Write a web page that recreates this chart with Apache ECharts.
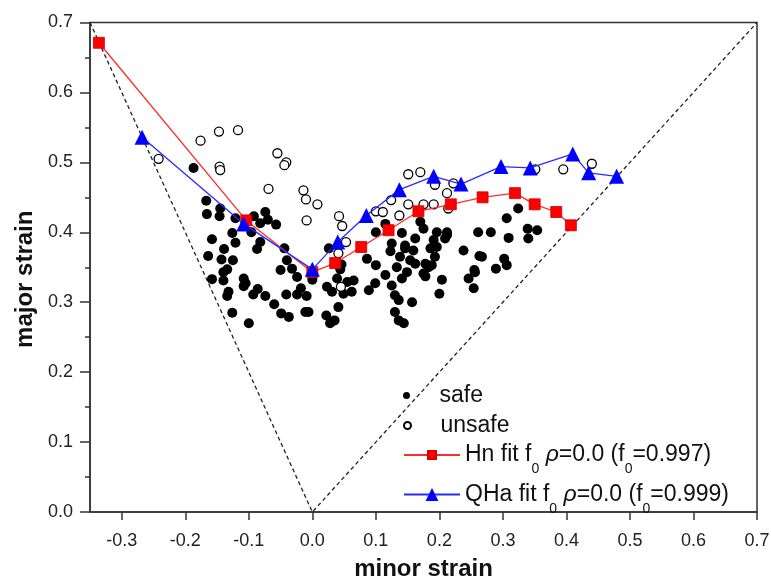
<!DOCTYPE html>
<html>
<head>
<meta charset="utf-8">
<script src="https://cdn.jsdelivr.net/npm/echarts@6/dist/echarts.min.js"></script>
<style>
html,body{margin:0;padding:0;background:#fff;}
#chart{width:771px;height:581px;}
</style>
</head>
<body>
<div id="chart"></div>
<script>
// ---- data (minor strain, major strain) ----
const safePoints = [
 [-0.187,0.492],[-0.167,0.445],[-0.166,0.426],[-0.145,0.434],[-0.146,0.423],[-0.121,0.420],[-0.092,0.423],
 [-0.074,0.429],[-0.070,0.418],[-0.057,0.411],[-0.082,0.413],[-0.126,0.399],[-0.096,0.400],
 [-0.158,0.390],[-0.121,0.385],[-0.139,0.376],[-0.164,0.366],[-0.143,0.361],[-0.125,0.360],[-0.134,0.347],
 [-0.140,0.343],[-0.158,0.333],[-0.140,0.331],[-0.108,0.334],[-0.105,0.327],[-0.108,0.323],[-0.087,0.376],
 [-0.082,0.386],[-0.086,0.319],[-0.093,0.311],[-0.074,0.309],[-0.132,0.315],[-0.134,0.309],[-0.126,0.285],
 [-0.100,0.270],[-0.060,0.297],[-0.049,0.284],[-0.037,0.279],[-0.041,0.311],[-0.024,0.311],[-0.018,0.320],
 [-0.009,0.309],[-0.011,0.286],[-0.050,0.346],[-0.040,0.360],[-0.032,0.348],[-0.024,0.336],[-0.044,0.377],
 [0.026,0.377],[0.000,0.332],[-0.006,0.286],[0.023,0.322],[0.031,0.315],[0.022,0.281],[0.028,0.270],
 [0.035,0.274],[0.041,0.293],[0.039,0.334],[0.044,0.347],[0.049,0.312],[0.055,0.329],[0.062,0.315],
 [0.065,0.331],[0.046,0.354],[0.086,0.362],[0.100,0.353],[0.115,0.339],[0.099,0.327],[0.089,0.317],
 [0.123,0.373],[0.125,0.324],[0.130,0.310],[0.133,0.350],[0.138,0.365],[0.146,0.377],[0.149,0.343],
 [0.141,0.334],[0.136,0.303],[0.130,0.286],[0.136,0.274],[0.144,0.270],[0.157,0.300],[0.162,0.355],
 [0.178,0.355],[0.175,0.341],[0.115,0.412],[0.100,0.400],[0.141,0.399],[0.170,0.415],[0.175,0.405],
 [0.162,0.391],[0.146,0.381],[0.125,0.384],[0.159,0.374],[0.154,0.360],
 [0.196,0.400],[0.212,0.396],[0.209,0.391],[0.191,0.389],[0.186,0.377],[0.196,0.379],[0.183,0.350],
 [0.178,0.337],[0.204,0.332],[0.200,0.312],[0.238,0.374],[0.261,0.400],[0.281,0.400],[0.267,0.365],
 [0.255,0.346],[0.246,0.334],[0.254,0.320],[0.302,0.362],[0.306,0.353],[0.289,0.348],[0.309,0.392],
 [0.306,0.420],[0.324,0.434],[0.339,0.405],[0.354,0.403],[0.340,0.391],[0.193,0.365],[0.188,0.353],
 [0.263,0.366],[0.256,0.343],[0.212,0.400]
];
const unsafePoints = [
 [-0.242,0.505],[-0.176,0.531],[-0.147,0.544],[-0.117,0.546],[-0.146,0.494],[-0.145,0.489],[-0.055,0.513],
 [-0.041,0.500],[-0.044,0.496],[-0.069,0.462],[-0.014,0.460],[-0.010,0.447],[0.008,0.440],[-0.009,0.417],
 [0.042,0.423],[0.047,0.409],[0.053,0.386],[0.041,0.370],[0.045,0.322],[0.100,0.430],[0.111,0.429],
 [0.124,0.446],[0.137,0.424],[0.151,0.440],[0.151,0.483],[0.170,0.486],[0.175,0.440],[0.191,0.440],
 [0.193,0.468],[0.222,0.470],[0.212,0.456],[0.214,0.434],[0.351,0.490],[0.395,0.490],[0.440,0.498]
];
const hnFit = [
 [-0.336,0.671],[-0.104,0.417],[0.000,0.343],[0.036,0.356],[0.077,0.379],[0.120,0.403],[0.167,0.430],
 [0.218,0.440],[0.268,0.450],[0.319,0.456],[0.350,0.440],[0.384,0.429],[0.407,0.410]
];
const qhaFit = [
 [-0.268,0.536],[-0.108,0.412],[0.000,0.347],[0.040,0.386],[0.085,0.424],[0.137,0.461],[0.191,0.480],
 [0.234,0.469],[0.297,0.494],[0.343,0.492],[0.410,0.512],[0.435,0.485],[0.479,0.480]
];
// reference lines: uniaxial (major = -2*minor) and equibiaxial (major = minor)
const boundaryLine = [[-0.35,0.70],[0.00,0.00],[0.70,0.70]];

const xRange = [-0.35, 0.70];
const yRange = [0, 0.70];
const seriesNames = ['safe','unsafe','Hn','QHa'];

const FONT = "'Liberation Sans', Arial, sans-serif";
const legendRich = {
  t: {fontSize: 23, lineHeight: 26, fontFamily: FONT, color: '#111'},
  r: {fontSize: 23, lineHeight: 26, fontFamily: FONT, fontStyle: 'italic', color: '#111'},
  s: {fontSize: 14, lineHeight: 14, fontFamily: FONT, color: '#111', padding: [29,0,0,0]}
};
function legendFmt(name){
  if (name === 'Hn') return '{t|Hn fit f}{s|0}{t| }{r|ρ}{t|=0.0 (f}{s|0}{t|=0.997)}';
  if (name === 'QHa') return '{t|QHa fit f}{s|0}{t| }{r|ρ}{t|=0.0 (f}{s|0}{t|=0.999)}';
  return '{t|' + name + '}';
}
function mkLegend(name, top, ih){
  return {
    data: [name], left: 403, top: top, orient: 'vertical', padding: 0,
    itemWidth: 56, itemHeight: ih, itemGap: 0, selectedMode: false,
    formatter: legendFmt, textStyle: {rich: legendRich}
  };
}
function fmt(v){
  const r = Math.round(v*10);
  if (Math.abs(v*10 - r) > 1e-6) return '';
  return (r/10).toFixed(1);
}

const chart = echarts.init(document.getElementById('chart'), null, {renderer: 'canvas'});
chart.setOption({
  animation: false,
  backgroundColor: '#fff',
  grid: {left: 90, right: 14, top: 22.5, bottom: 69, show: true, borderColor: '#333', borderWidth: 1.5,
         containLabel: false, outerBoundsMode: 'none'},
  legend: [
    mkLegend('safe', 384, 7),
    mkLegend('unsafe', 414, 7),
    mkLegend('Hn', 433.5, 10),
    mkLegend('QHa', 473, 16)
  ],
  xAxis: {
    type: 'value', min: xRange[0], max: xRange[1], splitNumber: 10,
    name: 'minor strain', nameLocation: 'middle', nameGap: 45,
    nameTextStyle: {fontFamily: FONT, fontSize: 24, fontWeight: 'bold', color: '#111'},
    axisLine: {show: true, onZero: false, lineStyle: {color: '#333', width: 1.5}},
    axisTick: {show: true, inside: false, length: 8, lineStyle: {color: '#333', width: 1.5}},
    axisLabel: {margin: 20, fontFamily: FONT, fontSize: 18, color: '#222', formatter: fmt, showMinLabel: false},
    splitLine: {show: false}
  },
  yAxis: {
    type: 'value', min: yRange[0], max: yRange[1], interval: 0.1,
    name: 'major strain', nameLocation: 'middle', nameGap: 52,
    nameTextStyle: {fontFamily: FONT, fontSize: 24, fontWeight: 'bold', color: '#111', padding: [0, 24, 0, 0]},
    axisLine: {show: true, onZero: false, lineStyle: {color: '#333', width: 1.5}},
    axisTick: {show: true, inside: false, length: 10, lineStyle: {color: '#333', width: 1.5}},
    minorTick: {show: true, splitNumber: 2, length: 5, lineStyle: {color: '#333', width: 1.5}},
    axisLabel: {margin: 17, fontFamily: FONT, fontSize: 18, color: '#222', formatter: fmt},
    splitLine: {show: false}
  },
  series: [
    {
      name: 'boundary', type: 'line', data: boundaryLine, symbol: 'none', silent: true,
      lineStyle: {color: '#222', width: 1.3, type: [4,3]}, z: 1
    },
    {
      name: 'safe', type: 'scatter', data: safePoints, symbol: 'circle', symbolSize: 10,
      itemStyle: {color: '#000', opacity: 1}, z: 2
    },
    {
      name: 'unsafe', type: 'scatter', data: unsafePoints, symbol: 'circle', symbolSize: 9,
      itemStyle: {color: '#fff', borderColor: '#000', borderWidth: 1.3, opacity: 1}, z: 3
    },
    {
      name: 'Hn', type: 'line', data: hnFit, symbol: 'rect', symbolSize: 11, showSymbol: true,
      lineStyle: {color: '#ff2a2a', width: 1.3}, itemStyle: {color: '#ff0000', borderColor: '#d00000', borderWidth: 0.8}, z: 4
    },
    {
      name: 'QHa', type: 'line', data: qhaFit, symbol: 'triangle', symbolSize: 15, showSymbol: true,
      lineStyle: {color: '#2a2aff', width: 1.3}, itemStyle: {color: '#0000ff'}, z: 5
    }
  ]
});
</script>
</body>
</html>
